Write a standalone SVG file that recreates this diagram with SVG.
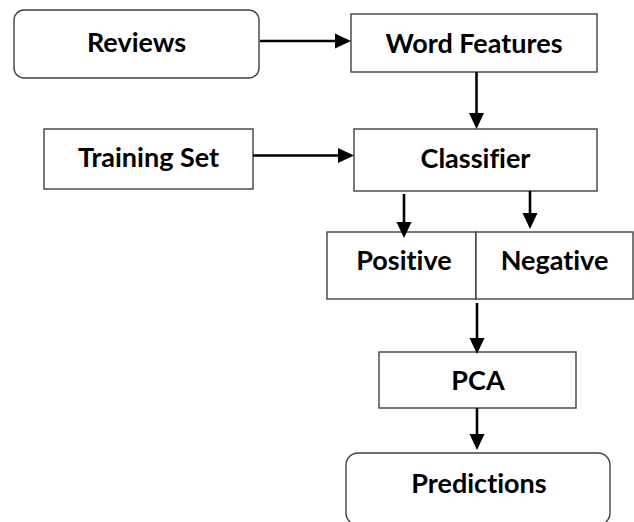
<svg xmlns="http://www.w3.org/2000/svg" width="634" height="522" viewBox="0 0 634 522">
  <style>
    .box { fill: #ffffff; stroke: #404040; stroke-width: 1.4; }
    .lbl { font-family: Lato, "Liberation Sans", sans-serif; font-weight: bold; font-size: 27px; fill: #000000; text-anchor: middle; font-variant-ligatures: none; }
    .edge { fill: none; stroke: #000000; stroke-width: 2.6; marker-end: url(#head); }
  </style>
  <defs>
    <marker id="head" markerUnits="userSpaceOnUse" markerWidth="16" markerHeight="16" refX="0" refY="8" orient="auto" overflow="visible">
      <path d="M0,0.5 L16,8 L0,15.5 Z" fill="#000000"/>
    </marker>
  </defs>
  <rect width="634" height="522" fill="#ffffff"/>

  <g id="reviews">
    <rect class="box" x="14" y="10" width="245" height="68" rx="10"/>
    <text class="lbl" x="136.5" y="52">Reviews</text>
  </g>
  <g id="word-features">
    <rect class="box" x="351" y="14" width="246" height="58"/>
    <text class="lbl" x="474" y="53">Word Features</text>
  </g>
  <g id="training-set">
    <rect class="box" x="44" y="129" width="209" height="60"/>
    <text class="lbl" x="148.5" y="167">Training Set</text>
  </g>
  <g id="classifier">
    <rect class="box" x="354" y="129" width="243" height="62"/>
    <text class="lbl" x="475.5" y="168">Classifier</text>
  </g>
  <g id="positive">
    <rect class="box" x="327" y="232" width="149" height="67"/>
    <text class="lbl" x="404" y="270">Positive</text>
  </g>
  <g id="negative">
    <rect class="box" x="476" y="232" width="157" height="67"/>
    <text class="lbl" x="554.5" y="270">Negative</text>
  </g>
  <g id="pca">
    <rect class="box" x="379" y="352" width="197" height="56"/>
    <text class="lbl" x="478" y="390">PCA</text>
  </g>
  <g id="predictions">
    <rect class="box" x="346" y="453" width="264" height="72" rx="12"/>
    <text class="lbl" x="479" y="493">Predictions</text>
  </g>

  <g id="connectors">
    <line class="edge" x1="260" y1="41" x2="335" y2="41"/>
    <line class="edge" x1="476.5" y1="72" x2="476.5" y2="113"/>
    <line class="edge" x1="253" y1="155.5" x2="338" y2="155.5"/>
    <line class="edge" x1="404" y1="194" x2="404" y2="222"/>
    <line class="edge" x1="530" y1="191" x2="530" y2="213"/>
    <line class="edge" x1="477" y1="303" x2="477" y2="338"/>
    <line class="edge" x1="477" y1="408" x2="477" y2="434"/>
  </g>
</svg>
